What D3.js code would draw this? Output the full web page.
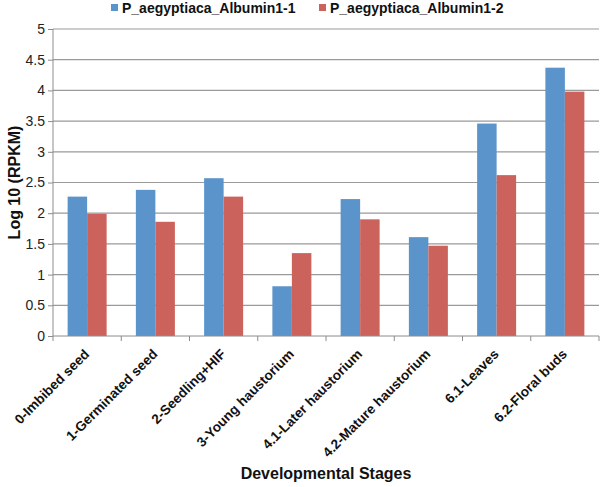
<!DOCTYPE html>
<html lang="en">
  <head>
    <meta charset="utf-8">
    <title>Albumin1 expression</title>
    <script type="text/javascript" src="https://d3js.org/d3.v7.min.js"></script>
    <style type="text/css">
      body{
        margin: 0;
        background: #ffffff;
      }
      text{
        font-family: "Liberation Sans", Arial, sans-serif;
      }
    </style>
  </head>
  <body>
    <div id="placeHere"></div>
    <script type="text/javascript">
      //data
      var stages = ["0-Imbibed seed", "1-Germinated seed", "2-Seedling+HIF", "3-Young haustorium",
                    "4.1-Later haustorium", "4.2-Mature haustorium", "6.1-Leaves", "6.2-Floral buds"];
      var seriesNames = ["P_aegyptiaca_Albumin1-1", "P_aegyptiaca_Albumin1-2"];
      var albumin1 = [2.27, 2.38, 2.57, 0.81, 2.23, 1.61, 3.46, 4.37];
      var albumin2 = [1.99, 1.86, 2.27, 1.35, 1.90, 1.47, 2.62, 3.98];
      var yTicks = [0, 0.5, 1, 1.5, 2, 2.5, 3, 3.5, 4, 4.5, 5];
      var colors = ["#5b93cb", "#cc625c"];

      //width and height
      var w = 600;
      var h = 487;
      var mLeft = 53, mRight = 599, mTop = 29, mBottom = 336;

      var svg = d3.select("#placeHere")
                  .append("svg")
                  .attr("width", w)
                  .attr("height", h);

      //scales
      var xScale = d3.scaleBand()
                     .domain(stages)
                     .range([mLeft, mRight]);

      var yScale = d3.scaleLinear()
                     .domain([0, 5])
                     .range([mBottom, mTop]);

      //gridlines
      svg.selectAll("line.grid")
         .data(yTicks.slice(1))
         .enter()
         .append("line")
         .attr("class", "grid")
         .attr("x1", mLeft)
         .attr("x2", mRight)
         .attr("y1", function(d){ return yScale(d); })
         .attr("y2", function(d){ return yScale(d); })
         .attr("stroke", "#9a9a9a")
         .attr("stroke-width", 1.2);

      //bars
      var data = [];
      stages.forEach(function(s, i){
        data.push({stage: s, k: 0, value: albumin1[i]});
        data.push({stage: s, k: 1, value: albumin2[i]});
      });

      var groupW = xScale.bandwidth() / 1.75;
      var barW = groupW / 2;

      svg.selectAll("rect.bar")
         .data(data)
         .enter()
         .append("rect")
         .attr("class", "bar")
         .attr("x", function(d){
           return xScale(d.stage) + (xScale.bandwidth() - groupW) / 2 + d.k * barW;
         })
         .attr("y", function(d){ return yScale(d.value); })
         .attr("width", barW)
         .attr("height", function(d){ return yScale(0) - yScale(d.value); })
         .attr("fill", function(d){ return colors[d.k]; });

      //y axis
      var yAxis = d3.axisLeft(yScale)
                    .tickValues(yTicks)
                    .tickFormat(d3.format("~g"))
                    .tickSize(5)
                    .tickPadding(3);
      var yg = svg.append("g")
                  .attr("transform", "translate(" + mLeft + ",0)")
                  .call(yAxis);
      yg.selectAll("line").attr("stroke", "#8c8c8c");
      yg.select(".domain").attr("stroke", "#8c8c8c").attr("d", "M0," + mTop + "V" + mBottom);
      yg.selectAll("text")
        .attr("font-size", "14px")
        .attr("font-family", "Liberation Sans, Arial, sans-serif")
        .attr("fill", "#222");

      //x axis
      var boundaries = stages.map(function(s){ return xScale(s); }).concat([mRight]);
      svg.append("line")
         .attr("x1", mLeft).attr("x2", mRight)
         .attr("y1", mBottom).attr("y2", mBottom)
         .attr("stroke", "#8c8c8c");
      svg.selectAll("line.xtick")
         .data(boundaries)
         .enter()
         .append("line")
         .attr("class", "xtick")
         .attr("x1", function(d){ return d; })
         .attr("x2", function(d){ return d; })
         .attr("y1", mBottom)
         .attr("y2", mBottom + 5)
         .attr("stroke", "#8c8c8c");

      svg.selectAll("text.xlab")
         .data(stages)
         .enter()
         .append("text")
         .attr("class", "xlab")
         .text(function(d){ return d; })
         .attr("text-anchor", "end")
         .attr("font-size", "13.6px")
         .attr("font-weight", "bold")
         .attr("fill", "#111")
         .attr("transform", function(d){
           var x = xScale(d) + xScale.bandwidth() / 2 + 3;
           return "translate(" + x + "," + (mBottom + 19) + ") rotate(-45)";
         });

      //axis titles
      svg.append("text")
         .text("Developmental Stages")
         .attr("x", (mLeft + mRight) / 2)
         .attr("y", 479)
         .attr("text-anchor", "middle")
         .attr("font-size", "16px")
         .attr("font-weight", "bold")
         .attr("fill", "#111");

      svg.append("text")
         .text("Log 10 (RPKM)")
         .attr("transform", "translate(20," + ((mTop + mBottom) / 2) + ") rotate(-90)")
         .attr("text-anchor", "middle")
         .attr("font-size", "16px")
         .attr("font-weight", "bold")
         .attr("fill", "#111");

      //legend
      var legendX = [111, 319];
      var lg = svg.selectAll("g.legend")
                  .data(seriesNames)
                  .enter()
                  .append("g")
                  .attr("class", "legend")
                  .attr("transform", function(d, i){ return "translate(" + legendX[i] + ",0)"; });
      lg.append("rect")
        .attr("x", 0).attr("y", 4)
        .attr("width", 7).attr("height", 7)
        .attr("fill", function(d, i){ return colors[i]; });
      lg.append("text")
        .text(function(d){ return d; })
        .attr("x", 11)
        .attr("y", 13)
        .attr("font-size", "14px")
        .attr("font-weight", "bold")
        .attr("fill", "#111");
    </script>
  </body>
</html>
